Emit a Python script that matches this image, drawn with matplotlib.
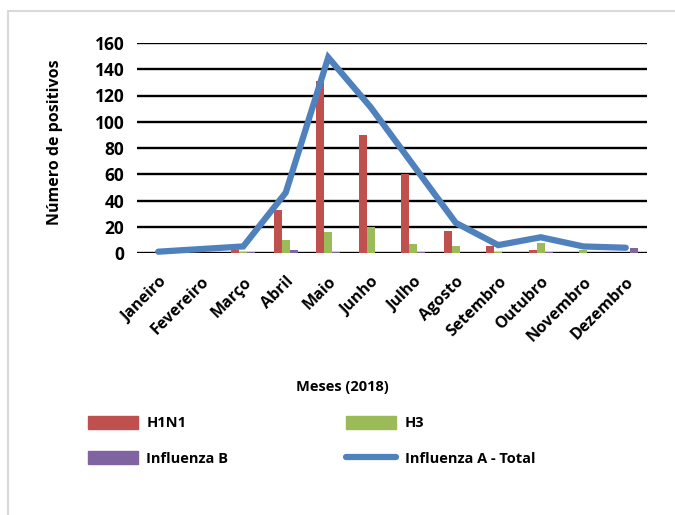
import numpy as np
import matplotlib.pyplot as plt
from matplotlib.patches import Patch, Rectangle
from matplotlib.lines import Line2D

plt.rcParams['font.family'] = ['Open Sans', 'DejaVu Sans']
plt.rcParams['font.weight'] = 'bold'

meses = ["Janeiro", "Fevereiro", "Março", "Abril", "Maio", "Junho",
         "Julho", "Agosto", "Setembro", "Outubro", "Novembro", "Dezembro"]
h1n1 = [0, 0, 2, 33, 131, 90, 60, 17, 5, 2, 0, 0]
h3 = [0, 0, 1, 10, 16, 20, 7, 5, 1, 8, 2, 0]
flu_b = [0, 0, 1, 2, 1, 0, 1, 0, 0, 1, 0, 4]
flu_a_total = [1, 3, 5, 46, 149, 111, 67, 23, 6, 12, 5, 4]

c_h1n1 = "#C0504D"
c_h3 = "#9BBB59"
c_b = "#8064A2"
c_total = "#4F81BD"

fig = plt.figure(figsize=(6.75, 5.15), dpi=100)
ax = fig.add_axes([137/675, 1 - 253/515, 510/675, 210/515])

# light frame around the chart area
fig.patches.append(Rectangle((8/675, -0.05), 1.0, 1 - 11/515 + 0.05,
                             transform=fig.transFigure, fill=False,
                             edgecolor="#d9d9d9", linewidth=1.5))

x = np.arange(len(meses))
w = 0.19
ax.bar(x - w, h1n1, w, color=c_h1n1, zorder=3)
ax.bar(x, h3, w, color=c_h3, zorder=3)
ax.bar(x + w, flu_b, w, color=c_b, zorder=3)
ax.plot(x, flu_a_total, color=c_total, linewidth=4.5,
        solid_capstyle="round", solid_joinstyle="miter", zorder=4, clip_on=False)

ax.set_xlim(-0.5, len(meses) - 0.5)
ax.set_ylim(0, 160)
ax.set_yticks(np.arange(0, 161, 20))
ax.yaxis.grid(True, color="black", linewidth=1.7)
ax.set_axisbelow(True)
for s in ax.spines.values():
    s.set_visible(False)
ax.tick_params(axis="y", length=0, pad=9, labelsize=12.5)
ax.tick_params(axis="x", length=0, pad=15, labelsize=11.5)
ax.set_xticks(x)
ax.set_xticklabels(meses, rotation=45, ha="right", va="top",
                   rotation_mode="anchor")

ax.set_ylabel("Número de positivos", fontsize=11.5, fontweight="bold")
ax.yaxis.set_label_coords(-0.145, 0.53)
fig.text(342/675, 1 - 387/515, "Meses (2018)", ha="center", va="center",
         fontsize=10.5, fontweight="bold")

handles = [Patch(color=c_h1n1), Patch(color=c_b), Patch(color=c_h3),
           Line2D([0], [0], color=c_total, linewidth=4.5, solid_capstyle="round")]
labels = ["H1N1", "Influenza B", "H3", "Influenza A - Total"]
fig.legend(handles, labels, ncol=2, loc="upper left",
           bbox_to_anchor=(88/675, 1 - 416/515), frameon=False,
           prop={"size": 10.5, "weight": "bold"},
           handlelength=3.4, handleheight=0.95, handletextpad=0.6,
           columnspacing=8.1, labelspacing=1.45, borderpad=0, borderaxespad=0)

fig.savefig("out.png", dpi=100)
